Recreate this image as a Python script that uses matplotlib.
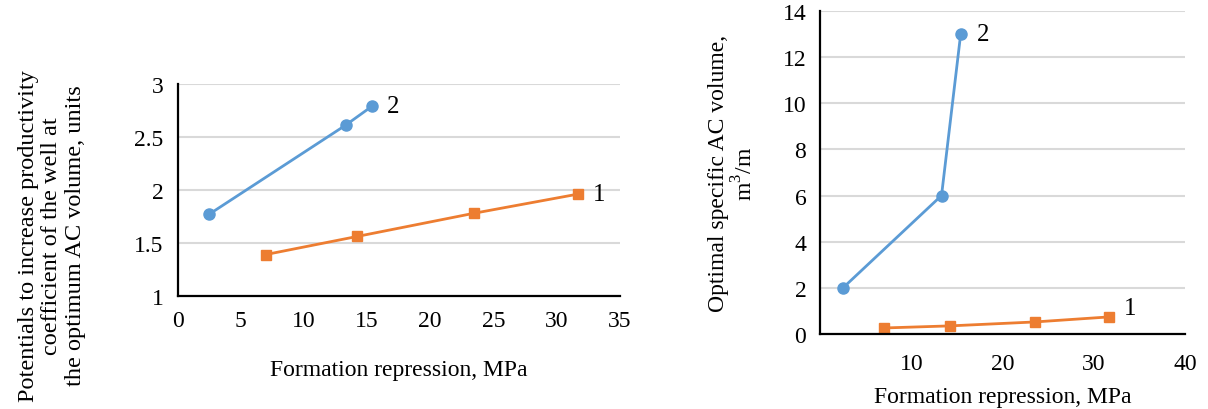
import numpy as np
import matplotlib.pyplot as plt
import matplotlib as mpl

mpl.rcParams['font.family'] = 'serif'
mpl.rcParams['font.serif'] = ['Liberation Serif', 'DejaVu Serif']
mpl.rcParams['mathtext.fontset'] = 'custom'
mpl.rcParams['mathtext.rm'] = 'Liberation Serif'

# data
x_2 = [2.5, 13.3, 15.4]
x_1 = [7.0, 14.2, 23.5, 31.7]
potential_2 = [1.77, 2.61, 2.79]
potential_1 = [1.39, 1.56, 1.78, 1.96]
volume_2 = [2.0, 6.0, 13.0]
volume_1 = [0.26, 0.35, 0.52, 0.74]

blue = '#5B9BD5'
orange = '#ED7D31'
fs = 17

fig = plt.figure(figsize=(12.08, 4.10), dpi=100)
ax1 = fig.add_axes([0.147, 0.276, 0.366, 0.517])
ax2 = fig.add_axes([0.679, 0.183, 0.302, 0.788])


def style(ax):
    for s in ['top', 'right']:
        ax.spines[s].set_visible(False)
    for s in ['left', 'bottom']:
        ax.spines[s].set_linewidth(1.6)
        ax.spines[s].set_color('black')
    ax.grid(axis='y', color='#d9d9d9', linewidth=1.5)
    ax.set_axisbelow(True)
    ax.tick_params(length=0, labelsize=fs, pad=10)


# ---- left panel ----
ax1.plot(x_2, potential_2, color=blue, lw=2, marker='o', ms=8)
ax1.plot(x_1, potential_1, color=orange, lw=2, marker='s', ms=7)
ax1.set_xlim(0, 35)
ax1.set_ylim(1, 3)
ax1.set_xticks(np.arange(0, 36, 5))
ax1.set_yticks([1, 1.5, 2, 2.5, 3])
ax1.set_yticklabels(['1', '1.5', '2', '2.5', '3'])
style(ax1)
ax1.text(x_2[-1] + 1.2, potential_2[-1], '2', fontsize=fs + 1, va='center')
ax1.text(x_1[-1] + 1.2, potential_1[-1], '1', fontsize=fs + 1, va='center')
ax1.set_xlabel('Formation repression, MPa', fontsize=fs, labelpad=20)
fig.text(0.043, 0.425, 'Potentials to increase productivity\ncoefficient of the well at\nthe optimum AC volume, units',
         rotation=90, ha='center', va='center', fontsize=fs + 0.5, linespacing=1.15)

# ---- right panel ----
ax2.plot(x_2, volume_2, color=blue, lw=2, marker='o', ms=8)
ax2.plot(x_1, volume_1, color=orange, lw=2, marker='s', ms=7)
ax2.set_xlim(0, 40)
ax2.set_ylim(0, 14)
ax2.set_xticks([10, 20, 30, 40])
ax2.set_yticks(np.arange(0, 15, 2))
style(ax2)
ax2.tick_params(axis='x', pad=14)
ax2.text(x_2[-1] + 1.8, volume_2[-1], '2', fontsize=fs + 1, va='center')
ax2.text(x_1[-1] + 1.6, volume_1[-1] + 0.4, '1', fontsize=fs + 1, va='center')
ax2.set_xlabel('Formation repression, MPa', fontsize=fs, labelpad=8)
ax2.set_ylabel('Optimal specific AC volume,\nm$^3$/m', fontsize=fs, labelpad=18, linespacing=1.15)

fig.savefig('out.png', dpi=100)
